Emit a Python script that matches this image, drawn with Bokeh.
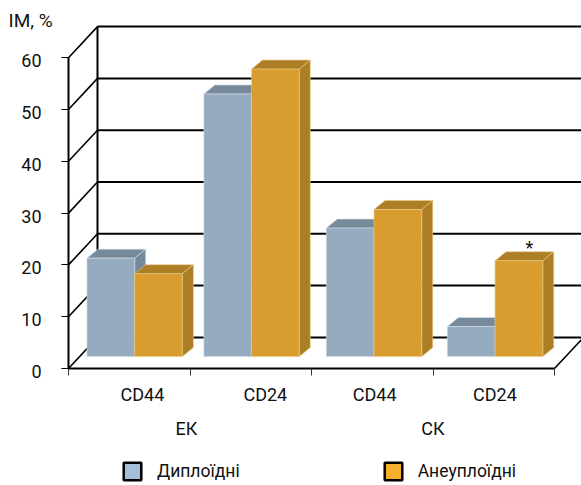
from bokeh.plotting import figure
from bokeh.models import Range1d, FixedTicker, Legend, LegendItem
from bokeh.core.properties import value
from bokeh.embed import file_html
from bokeh.resources import INLINE

categories = ["CD44", "CD24", "CD44", "CD24"]
groups = ["ЕК", "СК"]
series_names = ["Диплоїдні", "Анеуплоїдні"]
diploid = [19.0, 50.7, 24.8, 5.8]
aneuploid = [16.0, 55.5, 28.4, 18.5]
y_ticks = [0, 10, 20, 30, 40, 50, 60]

FONT = "Roboto"
PX_X = 121.5
PX_Y = 5.18
BACK_X = 29 / PX_X
BACK_Y = 6.0
DEPTH_X = 11 / PX_X
DEPTH_Y = 1.74
BAR_W = 47.7 / PX_X
FLOOR = 2.3
INSET = [0.152, 0.114, 0.122, 0.118]
X0, Y0 = 68, 368

W, H = 581, 485
p = figure(width=W, height=H, output_backend="svg", toolbar_location=None,
           x_range=Range1d(-X0 / PX_X, (W - X0) / PX_X),
           y_range=Range1d(-(H - Y0) / PX_Y, Y0 / PX_Y),
           min_border=0, min_border_left=0, min_border_right=0, min_border_top=0, min_border_bottom=0,
           outline_line_color=None, background_fill_color="white")
p.grid.visible = False

# back wall and side wall
xr = 4 + BACK_X
p.multi_line([[BACK_X, xr + 1] for _ in y_ticks], [[v + BACK_Y, v + BACK_Y] for v in y_ticks],
             line_color="black", line_width=2)
p.multi_line([[0, BACK_X] for _ in y_ticks], [[v, v + BACK_Y] for v in y_ticks],
             line_color="black", line_width=1.6)
p.line([BACK_X, BACK_X], [0 + BACK_Y, 60 + BACK_Y], line_color="black", line_width=2)
p.line([4, xr], [0, BACK_Y], line_color="black", line_width=1.6)

# axes
yax = p.yaxis[0]
yax.fixed_location = 0
yax.bounds = (0, 60)
yax.ticker = FixedTicker(ticks=y_ticks)
yax.major_tick_in = 0
yax.major_tick_out = 7
yax.major_tick_line_color = "black"
yax.major_tick_line_width = 1
yax.minor_tick_line_color = None
yax.axis_line_color = "black"
yax.axis_line_width = 2
yax.major_label_overrides = {v: "" for v in y_ticks}

xax = p.xaxis[0]
xax.fixed_location = 0
xax.bounds = (0, 4)
xax.ticker = FixedTicker(ticks=[0, 1, 2, 3, 4])
xax.major_tick_in = 0
xax.major_tick_out = 7
xax.major_tick_line_color = "#333333"
xax.major_tick_line_width = 1
xax.minor_tick_line_color = None
xax.axis_line_color = "black"
xax.axis_line_width = 2
xax.major_label_overrides = {v: "" for v in [0, 1, 2, 3, 4]}

# bars
def bar(left, val, front, dark):
    right = left + BAR_W
    top = FLOOR + val
    edge = "#d5dee6" if front.startswith("#9") else "#ecc987"
    p.patch([left, left + DEPTH_X, right + DEPTH_X, right], [top, top + DEPTH_Y, top + DEPTH_Y, top],
            fill_color=dark, line_color=edge, line_width=0.6)
    p.patch([right, right + DEPTH_X, right + DEPTH_X, right],
            [FLOOR, FLOOR + DEPTH_Y, top + DEPTH_Y, top],
            fill_color=dark, line_color=edge, line_width=0.6)
    p.quad(left=left, right=right, bottom=FLOOR, top=top, fill_color=front, line_color=edge, line_width=0.6)

for i in range(4):
    left = i + INSET[i]
    bar(left, diploid[i], "#94abc0", "#768a9a")
    bar(left + BAR_W, aneuploid[i], "#d89d2e", "#ac7f25")

# tick labels, category labels, group labels, star, title
lab = dict(text_font=value(FONT), text_font_size="18px", text_color="#111111")
p.text(x=[-27 / PX_X] * len(y_ticks), y=y_ticks, text=[str(v) for v in y_ticks],
       text_align="right", text_baseline="middle", y_offset=3, **lab)
p.text(x=[0.608, 1.62, 2.52, 3.51], y=[-26 / PX_Y] * 4, text=categories,
       text_align="center", text_baseline="middle", **lab)
p.text(x=[0.971, 3.0], y=[-60 / PX_Y] * 2, text=groups, text_align="center", text_baseline="middle", **lab)
p.text(x=[-60 / PX_X], y=[(368 - 20) / PX_Y], text=["IM, %"], text_align="left", text_baseline="middle",
       text_font=value(FONT), text_font_size="19px", text_color="#111111")
p.text(x=[3 + INSET[3] + 1.5 * BAR_W + DEPTH_X / 2], y=[FLOOR + aneuploid[3] + DEPTH_Y],
       text=["*"], text_align="center", text_baseline="middle", y_offset=-4, x_offset=5, **lab)

# legend
r1 = p.quad(left=[float("nan")], right=[float("nan")], bottom=[float("nan")], top=[float("nan")],
            fill_color="#a3bfd9", line_color="black", line_width=2.5)
r2 = p.quad(left=[float("nan")], right=[float("nan")], bottom=[float("nan")], top=[float("nan")],
            fill_color="#f5ae2e", line_color="black", line_width=2.5)
leg = Legend(items=[LegendItem(label=series_names[0], renderers=[r1]),
                    LegendItem(label=series_names[1], renderers=[r2])],
             orientation="horizontal", location=(121, 3), spacing=142, padding=0, margin=0,
             glyph_width=22, glyph_height=22, label_height=22, label_standoff=14,
             label_text_font=FONT, label_text_font_size="17.5px", label_text_color="#111111",
             background_fill_alpha=0, border_line_color=None)
p.add_layout(leg, "center")

open("out.html", "w").write(file_html(p, INLINE))
